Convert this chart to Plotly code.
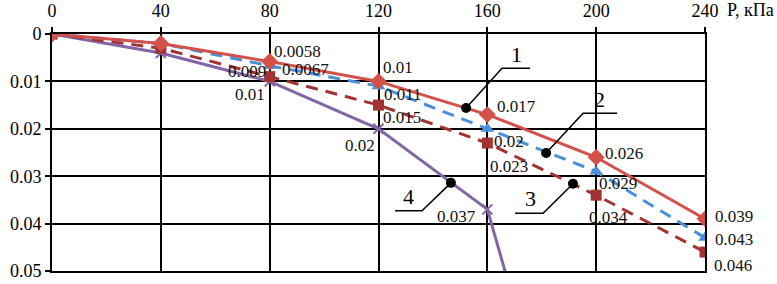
import plotly.graph_objects as go

# ---- data ----
pressure = [0, 40, 80, 120, 160, 200, 240]
s1 = [0, 0.002, 0.0058, 0.01, 0.017, 0.026, 0.039]
s2 = [0, 0.002, 0.0067, 0.011, 0.02, 0.029, 0.043]
s3 = [0, 0.003, 0.009, 0.015, 0.023, 0.034, 0.046]
p4 = [0, 40, 80, 120, 160, 170]
s4 = [0, 0.004, 0.01, 0.02, 0.037, 0.057]

s1_labels = ["", "", "0.0058", "0.01", "0.017", "0.026", "0.039"]
s2_labels = ["", "", "0.0067", "0.011", "0.02", "0.029", "0.043"]
s3_labels = ["", "", "0.009", "0.015", "0.023", "0.034", "0.046"]
s4_labels = ["", "", "0.01", "0.02", "0.037", ""]

x_ticks = [0, 40, 80, 120, 160, 200, 240]
x_ticktext = ["0", "40", "80", "120", "160", "200", "240"]
y_ticks = [0, 0.01, 0.02, 0.03, 0.04, 0.05]
y_ticktext = ["0", "0.01", "0.02", "0.03", "0.04", "0.05"]
x_unit = "P, кПа"

# callouts: (label, dot x, dot y, elbow x, elbow y, end x, text x, text y)
callouts = [
    ("1", 152.2, 0.0156, 165.4, 0.0072, 175.7, 170.9, 0.0043),
    ("2", 181.6, 0.0251, 195.2, 0.0167, 207.7, 201.4, 0.0138),
    ("3", 191.5, 0.0316, 180.5, 0.0378, 170.2, 175.7, 0.0346),
    ("4", 146.6, 0.0314, 136.0, 0.0373, 126.1, 131.2, 0.0342),
]

# ---- styles ----
C1 = "#d4504a"
C2 = "#4a8fd8"
C3 = "#a33232"
C4 = "#8466a8"
FONT = "Liberation Serif"

# label offsets (anchor, dx px right, dy px down) per labelled point
off1 = {2: ("left", 2, -10), 3: ("left", 2, -14), 4: ("left", 8, -8), 5: ("left", 7, -4), 6: ("left", 8, -2)}
off2 = {2: ("left", 10, 4), 3: ("left", 3, 8), 4: ("left", 5, 13), 5: ("left", 1, 12), 6: ("left", 8, 2)}
off3 = {2: ("right", -2, -5), 3: ("left", 2, 12), 4: ("left", 1, 23), 5: ("center", 12, 22), 6: ("left", 7, 13)}
off4 = {2: ("right", -3, 13), 3: ("right", -2, 17), 4: ("right", -9, 7)}

fig = go.Figure()

fig.add_trace(go.Scatter(x=p4, y=s4, mode="lines+markers",
                         line=dict(color=C4, width=3),
                         marker=dict(symbol="x-thin", size=10, line=dict(color=C4, width=2)),
                         cliponaxis=True))
fig.add_trace(go.Scatter(x=pressure, y=s3, mode="lines+markers",
                         line=dict(color=C3, width=3, dash="12px,8px"),
                         marker=dict(symbol="square", size=11, color=C3)))
fig.add_trace(go.Scatter(x=pressure, y=s2, mode="lines+markers",
                         line=dict(color=C2, width=3, dash="12px,8px"),
                         marker=dict(symbol="triangle-up", size=12, color=C2)))
fig.add_trace(go.Scatter(x=pressure, y=s1, mode="lines+markers",
                         line=dict(color=C1, width=3),
                         marker=dict(symbol="diamond", size=13, color=C1)))

annotations = []
for xs, ys, labs, offs in [(pressure, s1, s1_labels, off1), (pressure, s2, s2_labels, off2),
                           (pressure, s3, s3_labels, off3), (p4, s4, s4_labels, off4)]:
    for i, (xv, yv, lab) in enumerate(zip(xs, ys, labs)):
        if not lab:
            continue
        anc, dx, dy = offs[i]
        annotations.append(dict(x=xv, y=yv, text=lab, showarrow=False, xanchor=anc, yanchor="middle",
                                xshift=dx, yshift=-dy, font=dict(family=FONT, size=17, color="#111")))

shapes = []
for lab, dxp, dyp, ex, ey, endx, tx, ty in callouts:
    shapes.append(dict(type="path", path=f"M {dxp},{dyp} L {ex},{ey} L {endx},{ey}",
                       line=dict(color="black", width=1.5), xref="x", yref="y"))
    annotations.append(dict(x=tx, y=ty, text=lab, showarrow=False, xanchor="center", yanchor="middle",
                            font=dict(family=FONT, size=22, color="black")))

dot_x = [c[1] for c in callouts]
dot_y = [c[2] for c in callouts]
fig.add_trace(go.Scatter(x=dot_x, y=dot_y, mode="markers",
                         marker=dict(symbol="circle", size=10, color="black")))

annotations.append(dict(x=240, y=1, xref="x", yref="paper", text=x_unit, showarrow=False,
                        xanchor="left", yanchor="middle", xshift=20, yshift=24,
                        font=dict(family=FONT, size=18, color="black")))

fig.update_layout(
    width=777, height=284,
    margin=dict(l=52, r=72, t=34, b=13, autoexpand=False),
    paper_bgcolor="white", plot_bgcolor="white",
    showlegend=False,
    font=dict(family=FONT, size=18, color="black"),
    annotations=annotations,
    shapes=shapes,
)
fig.update_xaxes(side="top", range=[0, 240], tickvals=x_ticks, ticktext=x_ticktext,
                 showgrid=True, gridcolor="black", gridwidth=2, automargin=False,
                 showline=True, linecolor="black", linewidth=2, mirror=True,
                 ticks="outside", ticklen=5, tickwidth=2, tickcolor="black",
                 ticklabelstandoff=3,
                 zeroline=False, tickfont=dict(family=FONT, size=18, color="black"))
fig.update_yaxes(range=[0.05, 0], tickvals=y_ticks, ticktext=y_ticktext,
                 showgrid=True, gridcolor="black", gridwidth=2, automargin=False,
                 showline=True, linecolor="black", linewidth=2, mirror=True,
                 ticks="outside", ticklen=5, tickwidth=2, tickcolor="black",
                 zeroline=False, tickfont=dict(family=FONT, size=18, color="black"))

# remove the browser's default page margin so the figure fills the window exactly
fig.write_html("out.html", config={"displayModeBar": False},
               post_script="document.body.style.margin='0';document.body.style.overflow='hidden';")
